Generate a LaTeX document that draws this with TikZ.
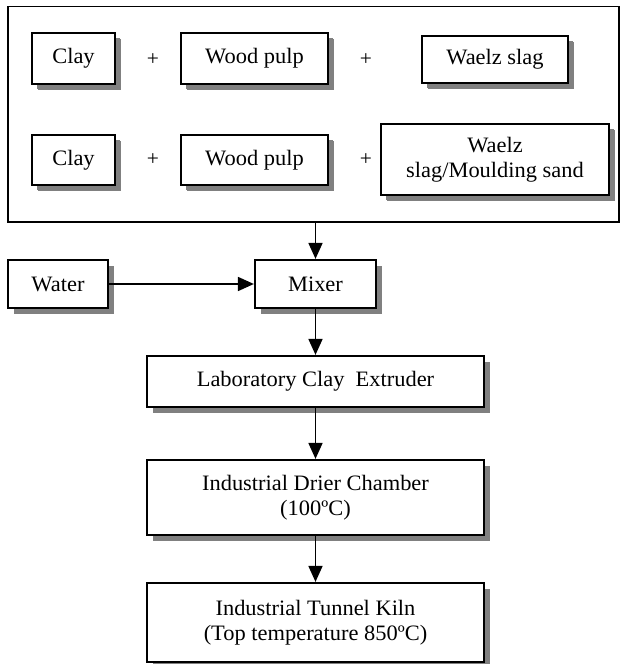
\documentclass[tikz,border=0pt]{standalone}
\usepackage{fontspec}
\setmainfont{Liberation Serif}[FakeStretch=1.02]
\usetikzlibrary{arrows.meta,shadows}
\begin{document}
\begin{tikzpicture}[x=1pt,y=-1pt,
  every node/.style={font=\fontsize{22}{25}\selectfont},
  box/.style={draw, line width=2.2pt, fill=white, inner sep=0pt, align=center,
    drop shadow={shadow xshift=6pt, shadow yshift=-6pt, fill=black!50, opacity=1}},
  smallbox/.style={box, drop shadow={shadow xshift=5pt, shadow yshift=-5pt, fill=black!50, opacity=1}},
  plus/.style={font=\fontsize{21}{22}\selectfont, inner sep=0pt},
  arr/.style={line width=1.7pt, -{Triangle[length=16pt,width=14pt]}}]
\useasboundingbox (0,0) rectangle (619,664);
% outer frame
\node[draw, line width=1.9pt, minimum width=611pt, minimum height=215.5pt, inner sep=0pt] (outer) at (313.5,114.25) {};
% row 1
\node[smallbox, minimum width=83pt, minimum height=51pt] (clay1) at (73.5,58.5) {Clay};
\node[plus] (p1) at (153,60) {+};
\node[smallbox, minimum width=147pt, minimum height=51pt] (wood1) at (254.5,58.5) {Wood pulp};
\node[plus] (p2) at (366,60) {+};
\node[smallbox, minimum width=146pt, minimum height=47pt] (waelz1) at (495,59.5) {Waelz slag};
% row 2
\node[smallbox, minimum width=83pt, minimum height=50pt] (clay2) at (73.5,160) {Clay};
\node[plus] (p3) at (153,160) {+};
\node[smallbox, minimum width=147pt, minimum height=50pt] (wood2) at (254.5,160) {Wood pulp};
\node[plus] (p4) at (366,160) {+};
\node[smallbox, minimum width=228pt, minimum height=71pt] (waelz2) at (495,159.5) {Waelz\\slag/Moulding sand};
% process
\node[box, minimum width=100pt, minimum height=48pt] (water) at (58,284) {Water};
\node[box, minimum width=121pt, minimum height=48pt] (mixer) at (315.5,284) {Mixer};
\node[box, minimum width=337pt, minimum height=51pt] (extr) at (315.5,381.5) {Laboratory Clay\ \ Extruder};
\node[box, minimum width=337pt, minimum height=75pt] (drier) at (315.5,497.5) {Industrial Drier Chamber\\(100ºC)};
\node[box, minimum width=337pt, minimum height=79pt] (kiln) at (315.5,622.5) {Industrial Tunnel Kiln\\(Top temperature 850ºC)};
% connectors
\draw[arr] (mixer.north |- outer.south) -- (mixer.north);
\draw[arr] (water.east) -- (mixer.west);
\draw[arr] (mixer.south) -- (extr.north);
\draw[arr] (extr.south) -- (drier.north);
\draw[arr] (drier.south) -- (kiln.north);
\end{tikzpicture}
\end{document}
